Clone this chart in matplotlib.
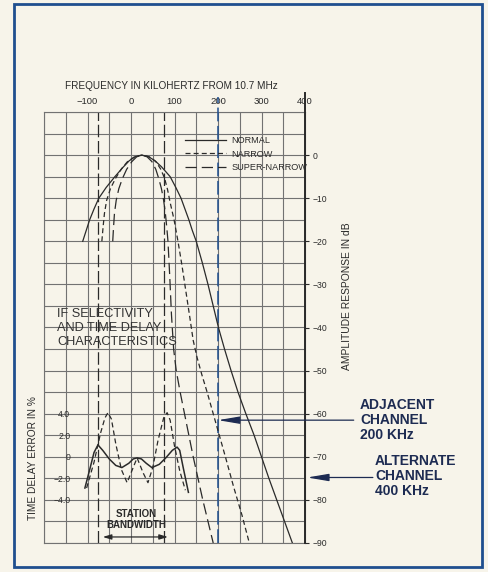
import numpy as np
import matplotlib
matplotlib.use("Agg")
import matplotlib.pyplot as plt
from matplotlib.patches import Rectangle

plt.rcParams['font.family'] = ['Liberation Sans', 'DejaVu Sans']

# ---------------- data ----------------
# amplitude response (dB) vs frequency offset (kHz)
normal_khz = [-111, -103, -95, -85, -74, -57, -37, -19, -4, 10, 25, 40, 55, 70, 90, 103, 115, 124,
              133, 141, 150, 164, 177, 189, 201, 215, 230, 246, 264, 283, 300, 317, 335, 353, 371]
normal_db = [-20, -17.5, -15, -12.5, -10, -7.5, -5, -2.9, -1.3, -0.35, 0, -0.35, -1.3, -2.7, -5,
             -7.5, -10, -12.5, -15, -17.5, -20, -25, -30, -35, -40, -45, -50, -55, -60, -65, -70,
             -75, -80, -85, -90]

narrow_khz = [-67, -64, -61, -56, -47, -35, -22, -8, 8, 25, 42, 57, 68, 77, 84, 90, 99, 108, 117,
              126, 135, 143, 152, 163, 175, 196, 217, 236, 255, 272]
narrow_db = [-20, -16.5, -13.5, -10.5, -7.7, -5.3, -3.2, -1.5, -0.4, 0, -0.4, -1.5, -3.2, -5.3, -8,
             -11, -15, -20, -25.5, -31.5, -37.5, -43, -47, -51, -55, -62.5, -70, -77, -83.5, -90]

super_khz = [-42, -40, -38, -34, -28, -20, -10, 2, 13, 25, 37, 48, 57, 64, 70, 75, 79, 82, 85, 89,
             93, 98, 104, 113, 127, 143, 165, 189]
super_db = [-20, -16.5, -13.5, -10.5, -7.8, -5.5, -3.3, -1.5, -0.4, 0, -0.4, -1.5, -3.3, -5.5, -7.8,
            -10.5, -13.5, -16.5, -20, -28, -37, -45, -50, -55, -62, -70, -80, -90]

# time delay error (%) vs frequency offset (kHz)
normal_delay_khz = [-106, -95, -85, -76, -65, -50, -35, -21, -5, 5, 14, 24, 35, 48, 65, 80, 95, 106,
                    112, 120, 132]
normal_delay = [-2.9, -1.2, 0.4, 1.1, 0.6, -0.2, -0.8, -1.0, -0.6, -0.2, -0.1, -0.2, -0.6, -1.0, -0.7,
                -0.1, 0.6, 0.9, 0.6, -1.0, -3.3]

narrow_delay_khz = [-102, -85, -70, -60, -53, -45, -35, -22, -9, 0, 14, 28, 39, 50, 62, 75, 83, 90,
                    100, 112, 125]
narrow_delay = [-2.9, -0.5, 2.2, 3.6, 4.1, 3.5, 1.2, -1.2, -2.4, -1.5, -0.1, -1.5, -2.4, -1.0, 1.5,
                3.6, 4.1, 3.4, 1.0, -1.3, -3.1]

series_names = ['NORMAL', 'NARROW', 'SUPER-NARROW']

station_edges = [-75, 75]
station_arrow_khz = [-65, 85]
adjacent_khz = 200
adjacent_db = -61.5
alternate_khz = 405
alternate_db = -74.8

freq_ticks = [-200, -150, -100, -50, 0, 50, 100, 150, 200, 250, 300, 350, 400]
freq_labels = ['', '', '\u2212100', '', '0', '', '100', '', '200', '', '300', '', '400']
db_ticks = [-90, -80, -70, -60, -50, -40, -30, -20, -10, 0]
db_labels = ['\u221290', '\u221280', '\u221270', '\u221260', '\u221250', '\u221240', '\u221230',
             '\u221220', '\u221210', '0']
pct_ticks = [-8, -6, -4, -2, 0, 2, 4, 6, 8, 10, 12, 14, 16, 18, 20, 22, 24, 26, 28, 30, 32]
pct_labels = ['', '', '\u22124.0', '\u22122.0', '0', '2.0', '4.0'] + [''] * 14

# ---------------- style ----------------
BG = '#f7f4ea'
INK = '#2a2a2a'
GRID = '#727272'
BLUE = '#1f4f8f'
NAVY = '#1d2b52'

W, H = 489, 572
fig = plt.figure(figsize=(W / 100, H / 100), dpi=100, facecolor=BG)


def fx(px):
    return px / W


def fy(py):
    return 1 - py / H


ax = fig.add_axes([fx(44), fy(543), fx(305) - fx(44), fy(112) - fy(543)])
ax.set_facecolor(BG)
ax.set_xlim(-200, 400)
ax.set_ylim(-8, 32)

ax.set_xticks(freq_ticks)
ax.set_xticklabels(freq_labels)
ax.xaxis.tick_top()
ax.tick_params(axis='x', length=0, pad=4, labelsize=6.8, colors=INK)

ax.set_yticks(pct_ticks)
ax.set_yticklabels(pct_labels)
ax.tick_params(axis='y', length=0, pad=-19, labelsize=6.2, colors=INK)

ax.grid(True, color=GRID, lw=0.8)
ax.set_axisbelow(True)
for s in ax.spines.values():
    s.set_color(GRID)
    s.set_linewidth(0.8)

axr = ax.twinx()
axr.set_ylim(-90, 10)
axr.set_yticks(db_ticks)
axr.set_yticklabels(db_labels)
axr.tick_params(axis='y', length=3, width=0.8, pad=2.5, labelsize=6.2, colors=INK)
for k in ['left', 'top', 'bottom']:
    axr.spines[k].set_visible(False)
axr.spines['right'].set_color(INK)
axr.spines['right'].set_linewidth(1.4)
axr.spines['right'].set_bounds(-90, 14.5)

# station bandwidth verticals
for e in station_edges:
    ax.axvline(e, color=INK, lw=0.9, dashes=(10, 3))

# adjacent channel blue dashed line
axr.vlines(adjacent_khz, -90, 13.5, colors=BLUE, lw=1.1, linestyles=(0, (9, 3)), clip_on=False)

# amplitude curves
l1, = axr.plot(normal_khz, normal_db, color=INK, lw=0.9, label=series_names[0])
l2, = axr.plot(narrow_khz, narrow_db, color=INK, lw=0.9, dashes=(4, 2.5), label=series_names[1])
l3, = axr.plot(super_khz, super_db, color=INK, lw=0.9, dashes=(9, 4), label=series_names[2])

# time delay curves
ax.plot(normal_delay_khz, normal_delay, color=INK, lw=1.1)
ax.plot(narrow_delay_khz, narrow_delay, color=INK, lw=0.9, dashes=(4, 2.5))

leg = axr.legend(handles=[l1, l2, l3], loc='upper left',
                 bbox_to_anchor=(fx(185), fy(136)), bbox_transform=fig.transFigure,
                 frameon=False, fontsize=6.6, handlelength=4.5, handletextpad=0.55,
                 labelspacing=0.5, borderpad=0, borderaxespad=0)
for t in leg.get_texts():
    t.set_color(INK)

# arrows
axr.annotate('', xy=(adjacent_khz, adjacent_db), xytext=(512, adjacent_db),
             arrowprops=dict(arrowstyle='-|>,head_length=1.3,head_width=0.22', color=NAVY,
                             lw=0.9, shrinkA=0, shrinkB=0), annotation_clip=False)
axr.annotate('', xy=(alternate_khz, alternate_db), xytext=(556, alternate_db),
             arrowprops=dict(arrowstyle='-|>,head_length=1.3,head_width=0.22', color=NAVY,
                             lw=0.9, shrinkA=0, shrinkB=0), annotation_clip=False)

axr.annotate('', xy=(station_arrow_khz[0], -88.6), xytext=(station_arrow_khz[1], -88.6),
             arrowprops=dict(arrowstyle='<|-|>,head_length=0.5,head_width=0.15', color=INK,
                             lw=0.9, shrinkA=0, shrinkB=0))
axr.text(12, -84.6, 'STATION\nBANDWIDTH', ha='center', va='center', fontsize=7,
         weight='bold', color=INK, linespacing=1.15)

# texts
fig.text(fx(171), fy(86), 'FREQUENCY IN KILOHERTZ FROM 10.7 MHz', ha='center', va='center',
         fontsize=7.2, color=INK)
fig.text(fx(33), fy(458), 'TIME DELAY ERROR IN %', rotation=90, ha='center', va='center',
         fontsize=7.3, color=INK)
fig.text(fx(347), fy(296), 'AMPLITUDE RESPONSE IN dB', rotation=90, ha='center', va='center',
         fontsize=7.4, color=INK)
fig.text(fx(57), fy(328), 'IF SELECTIVITY\nAND TIME DELAY\nCHARACTERISTICS', ha='left',
         va='center', fontsize=9.2, color='#333333', linespacing=1.25)
fig.text(fx(360), fy(420), 'ADJACENT\nCHANNEL\n200 KHz', ha='left', va='center',
         fontsize=10, weight='bold', color=NAVY, linespacing=1.12)
fig.text(fx(375), fy(476), 'ALTERNATE\nCHANNEL\n400 KHz', ha='left', va='center',
         fontsize=10, weight='bold', color=NAVY, linespacing=1.05)

fig.add_artist(Rectangle((fx(14), fy(567)), fx(482) - fx(14), fy(4) - fy(567),
                         transform=fig.transFigure, fill=False, ec=BLUE, lw=2))

fig.savefig('out.png', dpi=100, facecolor=BG)
